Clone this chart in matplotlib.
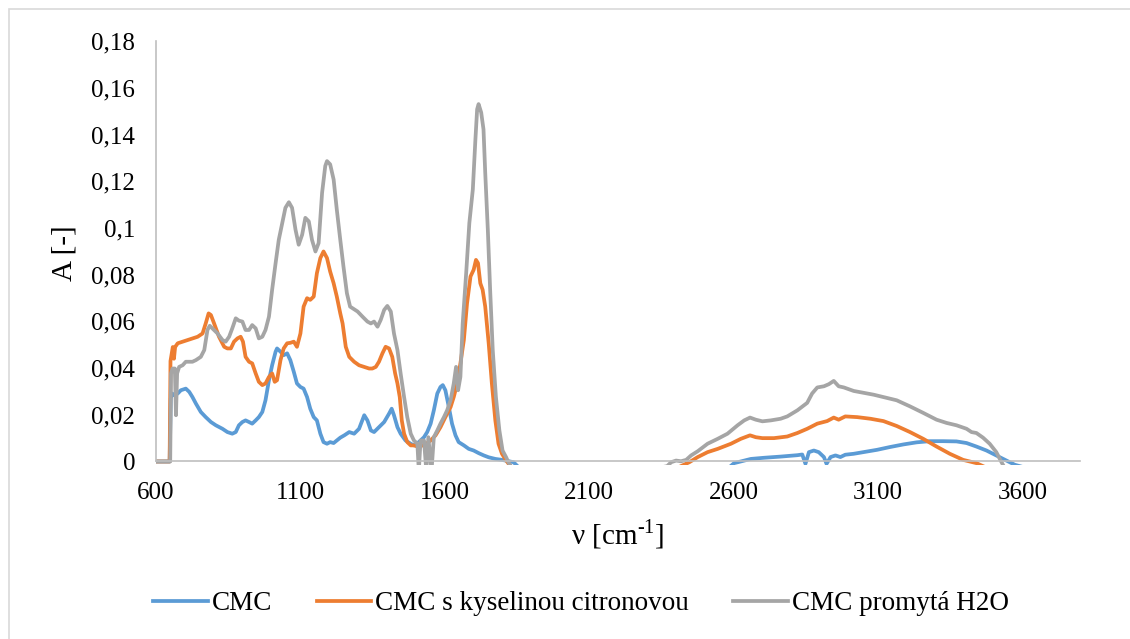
import matplotlib
matplotlib.use("Agg")
from matplotlib import pyplot as plt
from matplotlib.patches import Rectangle
from matplotlib.ticker import FuncFormatter


# Spektrum CMC (vlnocet, absorbance)
cmc_x = [600, 647, 651, 656, 663, 675, 686, 703, 715, 726, 738, 755, 772, 790, 807, 830, 847, 864, 876, 887,
         899, 910, 922, 933, 945, 956, 968, 979, 991, 1002, 1014, 1019, 1031, 1042, 1054, 1065, 1077, 1088, 1100,
         1111, 1123, 1134, 1146, 1157, 1169, 1180, 1192, 1203, 1215, 1226, 1238, 1252, 1269, 1286, 1303, 1321,
         1332, 1344, 1355, 1372, 1390, 1407, 1416, 1424, 1436, 1447, 1464, 1482, 1493, 1510, 1528, 1539, 1551,
         1562, 1574, 1585, 1593, 1602, 1614, 1625, 1637, 1648, 1666, 1683, 1700, 1717, 1735, 1752, 1775, 1798,
         1821, 1838, 1860, 2100, 2400, 2580, 2602, 2637, 2660, 2706, 2763, 2821, 2838, 2849, 2861, 2878, 2895,
         2913, 2922, 2936, 2953, 2970, 2987, 3016, 3050, 3097, 3142, 3188, 3234, 3280, 3326, 3372, 3407, 3441,
         3476, 3510, 3545, 3574, 3650, 3800]
cmc_y = [0, 0, 0.0270, 0.0291, 0.0284, 0.0291, 0.0305, 0.0312, 0.0298, 0.0276, 0.0248, 0.0212, 0.0190, 0.0169,
         0.0155, 0.0140, 0.0126, 0.0119, 0.0126, 0.0155, 0.0169, 0.0176, 0.0169, 0.0162, 0.0176, 0.0190, 0.0212,
         0.0262, 0.0348, 0.0412, 0.0470, 0.0484, 0.0470, 0.0455, 0.0463, 0.0434, 0.0384, 0.0334, 0.0319, 0.0312,
         0.0276, 0.0226, 0.0190, 0.0176, 0.0119, 0.0083, 0.0076, 0.0083, 0.0079, 0.0090, 0.0102, 0.0112, 0.0126,
         0.0119, 0.0140, 0.0198, 0.0176, 0.0133, 0.0126, 0.0147, 0.0169, 0.0205, 0.0226, 0.0198, 0.0147, 0.0119,
         0.0090, 0.0076, 0.0069, 0.0083, 0.0104, 0.0126, 0.0162, 0.0219, 0.0291, 0.0319, 0.0327, 0.0305, 0.0233,
         0.0162, 0.0112, 0.0083, 0.0069, 0.0054, 0.0047, 0.0036, 0.0026, 0.0018, 0.0011, 0.0007, 0.0001, -0.0003,
         -0.003, -0.006, -0.006, -0.003, -0.0007, 0.0004, 0.0011, 0.0016, 0.0021, 0.0027, 0.0030, -0.0010, 0.0040,
         0.0047, 0.0040, 0.0019, -0.0010, 0.0019, 0.0026, 0.0019, 0.0029, 0.0033, 0.0040, 0.0050, 0.0062, 0.0073,
         0.0082, 0.0087, 0.0087, 0.0086, 0.0079, 0.0064, 0.0047, 0.0026, 0.0004, -0.0014, -0.004, -0.005]

# Spektrum CMC s kyselinou citronovou
cmc_kc_x = [600, 647, 650, 654, 658, 662, 666, 675, 692, 709, 726, 744, 761, 772, 782, 790, 801, 818, 836, 847,
            859, 870, 882, 893, 901, 910, 922, 933, 945, 956, 968, 979, 991, 1002, 1011, 1019, 1031, 1042, 1054,
            1065, 1077, 1088, 1100, 1111, 1123, 1134, 1146, 1157, 1169, 1180, 1192, 1203, 1215, 1226, 1238, 1246,
            1257, 1269, 1286, 1303, 1321, 1338, 1349, 1361, 1372, 1384, 1395, 1407, 1418, 1428, 1436, 1444, 1451,
            1459, 1470, 1482, 1493, 1510, 1536, 1551, 1568, 1585, 1602, 1620, 1631, 1643, 1654, 1666, 1677, 1689,
            1700, 1708, 1715, 1723, 1731, 1740, 1752, 1763, 1775, 1786, 1798, 1809, 1821, 1840, 2000, 2200, 2400,
            2447, 2476, 2510, 2545, 2591, 2625, 2657, 2677, 2700, 2740, 2786, 2821, 2855, 2890, 2924, 2947, 2964,
            2987, 3028, 3074, 3119, 3165, 3211, 3257, 3303, 3349, 3395, 3441, 3500, 3800]
cmc_kc_y = [0, 0, 0.0430, 0.0460, 0.0490, 0.0440, 0.0490, 0.0506, 0.0513, 0.0520, 0.0527, 0.0534, 0.0548, 0.0591,
            0.0634, 0.0627, 0.0591, 0.0534, 0.0491, 0.0484, 0.0484, 0.0513, 0.0527, 0.0534, 0.0513, 0.0448, 0.0427,
            0.0420, 0.0377, 0.0341, 0.0327, 0.0334, 0.0362, 0.0377, 0.0341, 0.0348, 0.0434, 0.0484, 0.0506, 0.0508,
            0.0513, 0.0491, 0.0548, 0.0663, 0.0699, 0.0692, 0.0706, 0.0806, 0.0871, 0.0899, 0.0871, 0.0813, 0.0763,
            0.0706, 0.0634, 0.0591, 0.0491, 0.0448, 0.0427, 0.0412, 0.0405, 0.0398, 0.0398, 0.0405, 0.0427, 0.0463,
            0.0491, 0.0484, 0.0448, 0.0377, 0.0334, 0.0276, 0.0176, 0.0119, 0.0083, 0.0069, 0.0069, 0.0062, 0.0076,
            0.0090, 0.0112, 0.0147, 0.0190, 0.0233, 0.0276, 0.0334, 0.0420, 0.0520, 0.0677, 0.0792, 0.0821, 0.0863,
            0.0849, 0.0763, 0.0735, 0.0663, 0.0506, 0.0334, 0.0176, 0.0076, 0.0033, 0.0011, -0.0010, -0.004, -0.007,
            -0.006, -0.003, -0.0003, 0.0019, 0.0040, 0.0054, 0.0076, 0.0097, 0.0112, 0.0104, 0.0100, 0.0100, 0.0107,
            0.0122, 0.0140, 0.0162, 0.0173, 0.0188, 0.0179, 0.0193, 0.0190, 0.0183, 0.0173, 0.0152, 0.0126, 0.0097,
            0.0064, 0.0033, 0.0007, -0.0007, -0.004, -0.006]

# Spektrum CMC promyte vodou
cmc_h2o_x = [600, 649, 652, 657, 665, 669, 673, 680, 692, 703, 715, 726, 738, 755, 767, 778, 786, 795, 813, 830,
             841, 853, 864, 876, 887, 899, 910, 922, 933, 945, 956, 968, 979, 991, 1002, 1014, 1025, 1037, 1048,
             1060, 1071, 1083, 1094, 1106, 1117, 1129, 1140, 1152, 1163, 1175, 1186, 1192, 1203, 1215, 1226, 1238,
             1249, 1261, 1272, 1289, 1298, 1315, 1332, 1344, 1355, 1367, 1378, 1390, 1401, 1413, 1424, 1436, 1447,
             1459, 1470, 1482, 1493, 1505, 1510, 1516, 1528, 1536, 1543, 1554, 1562, 1574, 1585, 1597, 1608, 1620,
             1631, 1639, 1646, 1654, 1662, 1674, 1685, 1697, 1706, 1712, 1717, 1726, 1734, 1740, 1749, 1757, 1766,
             1777, 1789, 1800, 1812, 1821, 1840, 1950, 2100, 2250, 2370, 2384, 2401, 2418, 2436, 2453, 2476, 2510,
             2545, 2579, 2614, 2637, 2657, 2677, 2700, 2729, 2763, 2786, 2821, 2855, 2872, 2890, 2913, 2930, 2947,
             2964, 2982, 3016, 3050, 3085, 3119, 3165, 3211, 3257, 3303, 3338, 3372, 3407, 3424, 3441, 3464, 3487,
             3510, 3528, 3545, 3700, 3800]
cmc_h2o_y = [0, 0, 0.0377, 0.0398, 0.0398, 0.0198, 0.0377, 0.0405, 0.0412, 0.0427, 0.0427, 0.0427, 0.0434, 0.0448,
             0.0477, 0.0563, 0.0581, 0.0570, 0.0548, 0.0520, 0.0513, 0.0534, 0.0570, 0.0613, 0.0603, 0.0599, 0.0563,
             0.0563, 0.0584, 0.0570, 0.0527, 0.0534, 0.0563, 0.0620, 0.0735, 0.0849, 0.0949, 0.1021, 0.1086, 0.1110,
             0.1086, 0.0992, 0.0928, 0.0971, 0.1043, 0.1028, 0.0949, 0.0899, 0.0935, 0.1150, 0.1265, 0.1286, 0.1272,
             0.1207, 0.1078, 0.0949, 0.0835, 0.0720, 0.0663, 0.0649, 0.0642, 0.0620, 0.0599, 0.0591, 0.0599, 0.0577,
             0.0606, 0.0649, 0.0666, 0.0642, 0.0548, 0.0477, 0.0377, 0.0276, 0.0190, 0.0119, 0.0090, 0.0076, -0.004,
             0.0090, 0.0090, -0.004, 0.0104, -0.004, 0.0104, 0.0133, 0.0162, 0.0190, 0.0219, 0.0262, 0.0334, 0.0405,
             0.0305, 0.0362, 0.0591, 0.0806, 0.1021, 0.1164, 0.1379, 0.1508, 0.1530, 0.1494, 0.1422, 0.1236, 0.0992,
             0.0735, 0.0477, 0.0276, 0.0133, 0.0047, 0.0019, -0.0005, -0.004, -0.006, -0.006, -0.005, -0.002, -0.0003,
             0.0004, 0.0001, 0.0007, 0.0026, 0.0044, 0.0076, 0.0097, 0.0119, 0.0155, 0.0176, 0.0188, 0.0179, 0.0172,
             0.0176, 0.0183, 0.0193, 0.0219, 0.0251, 0.0291, 0.0317, 0.0322, 0.0331, 0.0345, 0.0322, 0.0317, 0.0302,
             0.0294, 0.0286, 0.0276, 0.0262, 0.0236, 0.0208, 0.0179, 0.0165, 0.0155, 0.0140, 0.0126, 0.0122, 0.0102,
             0.0076, 0.0040, -0.0003, -0.004, -0.005, -0.005]

nazvy = ['CMC', 'CMC s kyselinou citronovou', 'CMC promytá H2O']
barvy = ['#5B9BD5', '#ED7D31', '#A5A5A5']
x_popisky = [600, 1100, 1600, 2100, 2600, 3100, 3600]
y_popisky = [0, 0.02, 0.04, 0.06, 0.08, 0.1, 0.12, 0.14, 0.16, 0.18]


# Popisky osy y s desetinnou carkou
def desetinna_carka(hodnota, pozice):
    if abs(hodnota) < 1e-9:
        return '0'
    return ('%g' % round(hodnota, 2)).replace('.', ',')


# Vykresleni vsech tri spekter do jednoho grafu
def vykresli_spektra():
    plt.rcParams['font.family'] = 'Liberation Serif'
    plt.rcParams['mathtext.fontset'] = 'custom'
    plt.rcParams['mathtext.rm'] = 'Liberation Serif'

    fig = plt.figure(figsize=(11.3, 6.39), dpi=100)
    fig.patches.append(Rectangle((9 / 1130, -0.05), 1.2, 1.05 - 9 / 639, transform=fig.transFigure,
                                 fill=False, edgecolor='#D9D9D9', linewidth=1.2))

    ax = fig.add_axes([0.1381, 0.2723, 0.8177, 0.6635])
    data = [(cmc_x, cmc_y), (cmc_kc_x, cmc_kc_y), (cmc_h2o_x, cmc_h2o_y)]
    for (x, y), nazev, barva in zip(data, nazvy, barvy):
        ax.plot(x, y, color=barva, linewidth=2.7, label=nazev, solid_joinstyle='round')

    ax.set_xlim(600, 3800)
    ax.set_ylim(-0.0015, 0.18)
    ax.set_xticks(x_popisky)
    ax.set_yticks(y_popisky)
    ax.yaxis.set_major_formatter(FuncFormatter(desetinna_carka))
    ax.tick_params(length=0, pad=15, labelsize=18)

    for strana in ['top', 'right']:
        ax.spines[strana].set_visible(False)
    ax.spines['bottom'].set_position(('data', 0))
    ax.spines['left'].set_bounds(0, 0.18)
    for strana in ['bottom', 'left']:
        ax.spines[strana].set_color('#BFBFBF')
        ax.spines[strana].set_linewidth(1.2)

    # horni index s obycejnou pomlckou
    ax.set_xlabel('ν [cm$^{\\mathregular{\u2010}1}$]', fontsize=21, va='center')
    ax.xaxis.set_label_coords(0.5, -0.163)
    ax.set_ylabel('A [-]', fontsize=21, va='center')
    ax.yaxis.set_label_coords(-0.0996, 0.5)

    fig.legend(loc='center', bbox_to_anchor=(581 / 1130, 35 / 639), ncol=3, frameon=False, fontsize=19.5,
               handlelength=2.0, handletextpad=0.15, columnspacing=1.65)

    fig.savefig('out.png', dpi=100)


if __name__ == '__main__':
    vykresli_spektra()
